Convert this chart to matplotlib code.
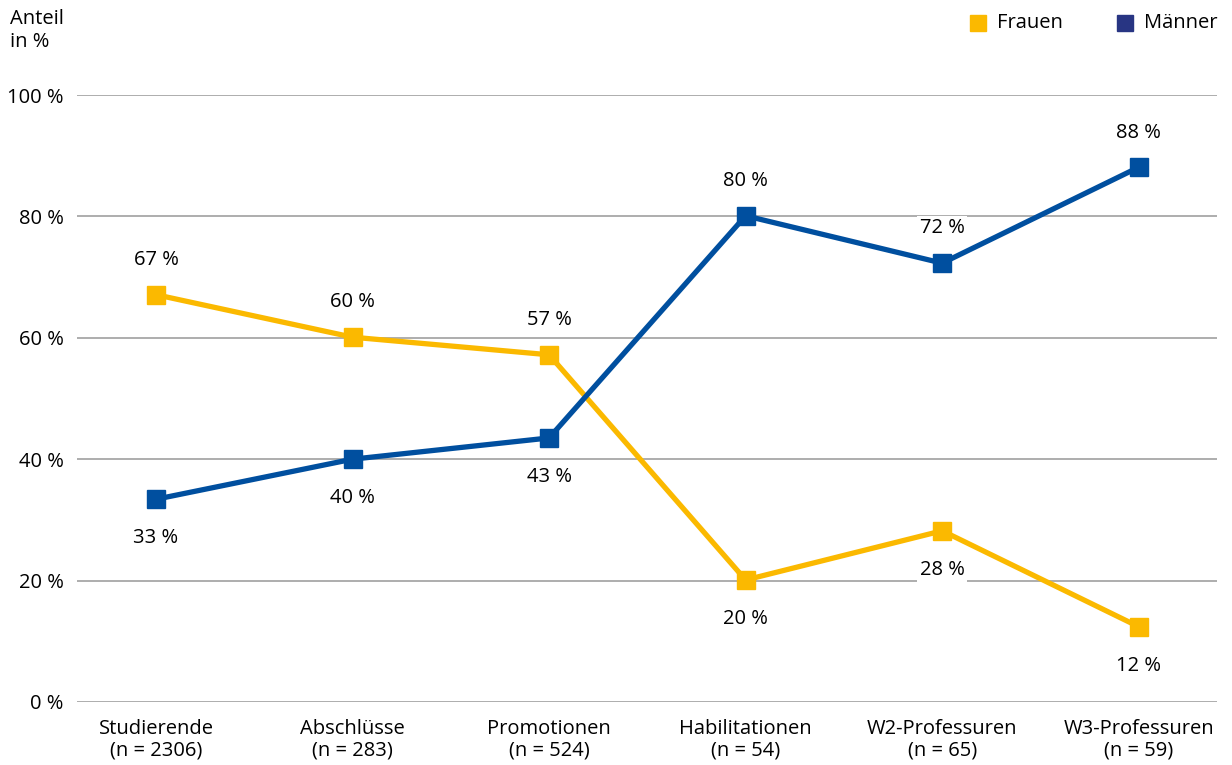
import numpy as np
import matplotlib.pyplot as plt
from matplotlib.patches import Rectangle

plt.rcParams['font.family'] = ['Open Sans', 'DejaVu Sans']

# data
categories = ["Studierende\n(n = 2306)", "Abschlüsse\n(n = 283)", "Promotionen\n(n = 524)",
              "Habilitationen\n(n = 54)", "W2-Professuren\n(n = 65)", "W3-Professuren\n(n = 59)"]
frauen = [67.1, 60.1, 57.2, 20.1, 28.2, 12.4]
maenner = [33.4, 40.0, 43.5, 80.1, 72.3, 88.1]
frauen_labels = ["67 %", "60 %", "57 %", "20 %", "28 %", "12 %"]
maenner_labels = ["33 %", "40 %", "43 %", "80 %", "72 %", "88 %"]
frauen_above = [True, True, True, False, False, False]

col_f = "#fbb900"
col_m = "#004f9f"
col_m_legend = "#283583"
fs = 14.5

fig = plt.figure(figsize=(12.32, 7.65), dpi=100)
ax = fig.add_axes([0.0628, 0.0824, 0.9253, 0.7934])

x = np.arange(len(categories))
ax.plot(x, frauen, color=col_f, lw=3.8, marker="s", ms=13, zorder=3)
ax.plot(x, maenner, color=col_m, lw=3.8, marker="s", ms=13, zorder=4)

box = dict(facecolor="white", edgecolor="none", pad=2)


def offset(above):
    return 25 if above else -28


for i in range(len(x)):
    ax.annotate(frauen_labels[i], (x[i], frauen[i]), xytext=(0, offset(frauen_above[i])),
                textcoords="offset points", ha="center", va="center", fontsize=fs, bbox=box, zorder=2)
    ax.annotate(maenner_labels[i], (x[i], maenner[i]), xytext=(0, offset(not frauen_above[i])),
                textcoords="offset points", ha="center", va="center", fontsize=fs, bbox=box, zorder=2)

ax.set_xlim(-0.4, 5.4)
ax.set_ylim(0, 100)
ax.set_yticks(range(0, 101, 20))
ax.set_yticklabels([f"{v} %" for v in range(0, 101, 20)], fontsize=fs)
ax.set_xticks(x)
ax.set_xticklabels(categories, fontsize=fs, linespacing=1.1)
ax.tick_params(axis="y", length=0, pad=10)
ax.tick_params(axis="x", length=0, pad=12)
ax.grid(axis="y", color="#a0a0a0", lw=1.2, zorder=0)
ax.set_axisbelow(True)
for s in ax.spines.values():
    s.set_visible(False)

fig.text(0.008, 0.988, "Anteil\nin %", fontsize=fs, ha="left", va="top", linespacing=1.2)

# legend
sq_w, sq_h = 16 / 1232, 16 / 765
fig.patches.append(Rectangle((0.794 - sq_w / 2, 0.970 - sq_h / 2), sq_w, sq_h,
                             color=col_f, transform=fig.transFigure, figure=fig))
fig.text(0.809, 0.970, "Frauen", fontsize=fs, ha="left", va="center")
fig.patches.append(Rectangle((0.913 - sq_w / 2, 0.970 - sq_h / 2), sq_w, sq_h,
                             color=col_m_legend, transform=fig.transFigure, figure=fig))
fig.text(0.9286, 0.970, "Männer", fontsize=fs, ha="left", va="center")

fig.savefig("out.png", dpi=100)
